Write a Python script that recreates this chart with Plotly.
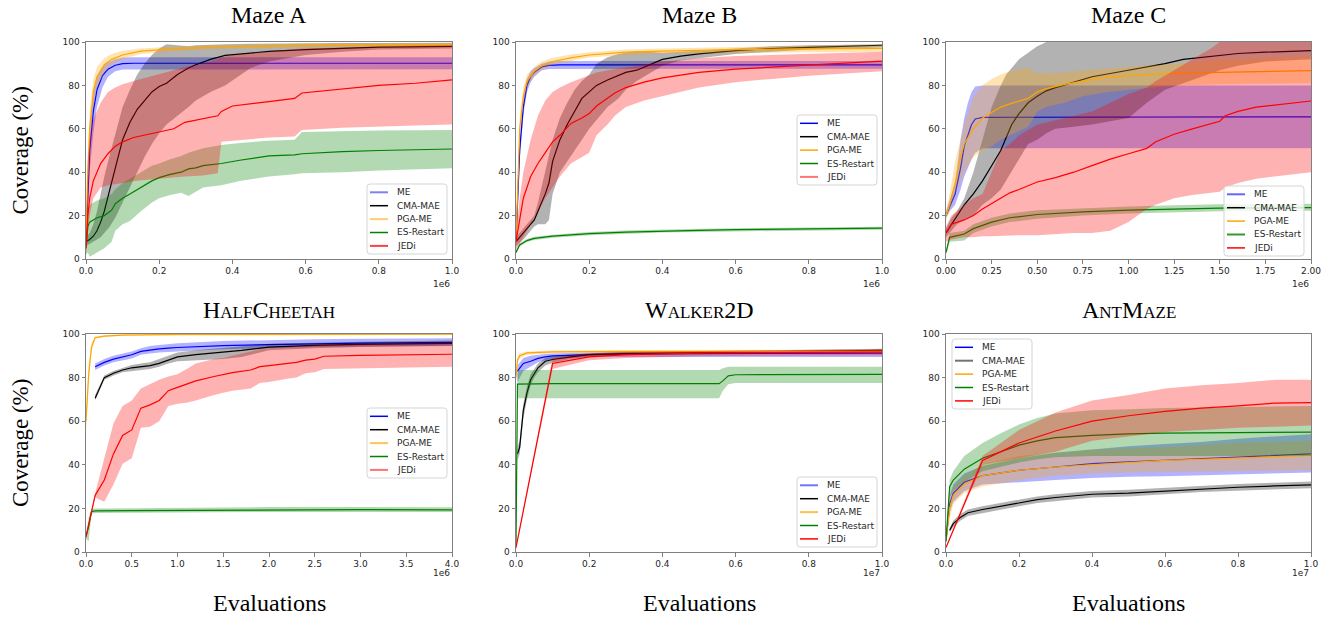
import plotly.graph_objects as go

W, H = 1328, 617

NAMES = ["ME", "CMA-MAE", "PGA-ME", "ES-Restart", "JEDi"]
COLORS = ["#0000ff", "#000000", "#ffa500", "#008000", "#ff0000"]
RGB = [(0, 0, 255), (0, 0, 0), (255, 165, 0), (0, 128, 0), (255, 0, 0)]
TITLES = ["Maze A", "Maze B", "Maze C", "HalfCheetah", "Walker2D", "AntMaze"]
XMAX = [1.0, 1.0, 2.0, 4.0, 1.0, 1.0]
XDTICK = [0.2, 0.2, 0.25, 0.5, 0.2, 0.2]
XFMT = [".1f", ".1f", ".2f", ".1f", ".1f", ".1f"]
XEXP = ["1e6", "1e6", "1e6", "1e6", "1e7", "1e7"]
Y_TICKS = [0, 20, 40, 60, 80, 100]

# ---------------- Maze A (x in 1e6 evaluations) ----------------
MA_ME_X = [0, 0.004, 0.01, 0.02, 0.03, 0.045, 0.06, 0.08, 0.1, 0.13, 1.0]
MA_ME_Y = [8, 25, 50, 68, 78, 84.5, 87.5, 89.3, 90, 90.2, 90.2]
MA_ME_LO = [5, 18, 40, 58, 70, 79, 84, 86.5, 87.3, 87.5, 87.5]
MA_ME_HI = [10, 35, 60, 76, 84, 88.5, 90.5, 92, 92.8, 93, 93]

MA_CMA_X = [0, 0.01, 0.02, 0.03, 0.04, 0.05, 0.065, 0.08, 0.1, 0.12, 0.14, 0.16, 0.18, 0.2,
            0.22, 0.25, 0.28, 0.3, 0.34, 0.38, 0.45, 0.5, 0.6, 0.7, 0.8, 1.0]
MA_CMA_Y = [8, 9, 10.5, 13, 17, 22, 32, 42, 55, 63, 69, 73, 77, 79.5,
            81, 85, 88, 89.5, 92, 93.8, 95, 95.7, 96.5, 97.2, 97.6, 98]
MA_CMA_LO = [6, 7, 8, 9, 10, 12, 15, 19, 26, 33, 40, 47, 53, 58,
             62, 66, 70, 73, 77, 80, 88, 91, 94, 95.5, 96.5, 97]
MA_CMA_HI = [10, 12, 16, 22, 30, 38, 48, 58, 70, 78, 85, 90, 94, 97,
             99, 98.5, 98, 98.5, 98.8, 99, 99.2, 99.3, 99.4, 99.5, 99.5, 99.6]

MA_PGA_X = [0, 0.004, 0.01, 0.02, 0.03, 0.05, 0.07, 0.1, 0.15, 0.25, 0.4, 0.6, 1.0]
MA_PGA_Y = [8, 35, 60, 77, 84, 89.5, 92, 94, 95.8, 97, 97.8, 98.3, 98.7]
MA_PGA_LO = [6, 25, 50, 70, 79, 86, 89.5, 92, 94.5, 96, 97, 97.5, 98]
MA_PGA_HI = [10, 45, 68, 83, 88.5, 92.5, 94.5, 96, 97, 98, 98.7, 99.2, 99.5]

MA_ES_X = [0, 0.005, 0.01, 0.03, 0.05, 0.07, 0.08, 0.1, 0.12, 0.15, 0.18, 0.2, 0.23, 0.26,
           0.28, 0.3, 0.32, 0.37, 0.42, 0.5, 0.57, 0.59, 0.7, 0.8, 1.0]
MA_ES_Y = [5, 15, 17, 19, 20, 22.5, 25.5, 28, 30, 33, 36, 37.5, 39, 40,
           41.5, 42, 43, 44, 45.5, 47.5, 48, 48.5, 49.5, 50, 50.7]
MA_ES_LO = [2, 3, 1, 3, 5, 8, 13, 16, 17.5, 22, 26, 28, 29.5, 30.5,
            29, 31, 33, 34, 36, 38, 39, 39.5, 40, 40.8, 41.8]
MA_ES_HI = [8, 22, 25, 27, 28, 30, 32, 35, 37, 40, 43, 44, 46, 47.5,
            49, 50, 51, 52.5, 53.5, 54.5, 55, 58.5, 59, 59.2, 59.4]

MA_JEDI_X = [0, 0.005, 0.01, 0.02, 0.04, 0.06, 0.08, 0.1, 0.13, 0.2, 0.24, 0.27, 0.32,
             0.36, 0.37, 0.4, 0.5, 0.57, 0.59, 0.7, 0.8, 0.9, 1.0]
MA_JEDI_Y = [5, 20, 28, 36, 44, 48.5, 52, 54, 56, 58.5, 60, 63, 64.5,
             66, 68, 70.5, 72.5, 74, 76.5, 78.5, 80, 81, 82.5]
MA_JEDI_LO = [2, 12, 20, 28, 33, 34, 34.5, 35, 36, 37, 37.5, 38, 38.5,
              39.5, 54, 54.5, 56, 56.5, 59.5, 60.5, 61, 61.5, 62]
MA_JEDI_HI = [8, 45, 55, 64, 72, 77, 79, 80.5, 82, 85, 87, 88.5, 90,
              92, 93, 94, 95.5, 96.5, 97, 97.5, 98, 98.3, 98.5]

# ---------------- Maze B ----------------
MB_ME_X = [0, 0.005, 0.01, 0.02, 0.03, 0.04, 0.05, 0.07, 0.09, 0.12, 1.0]
MB_ME_Y = [8, 27, 50, 70, 80, 84, 86, 88.5, 89.2, 89.5, 89.5]
MB_ME_LO = [6, 25, 45, 66, 77, 81.5, 84, 87, 87.6, 87.7, 87.7]
MB_ME_HI = [10, 29, 55, 74, 83, 86.5, 88, 90, 91, 91.3, 91.3]

MB_CMA_X = [0, 0.02, 0.04, 0.05, 0.06, 0.08, 0.09, 0.1, 0.12, 0.14, 0.16, 0.18, 0.2, 0.22,
            0.25, 0.28, 0.3, 0.33, 0.36, 0.38, 0.4, 0.45, 0.5, 0.6, 0.7, 0.8, 1.0]
MB_CMA_Y = [8, 12, 16, 18, 22, 30, 35, 45, 55, 62, 68, 74, 77, 80,
            82.5, 84.5, 86, 87, 89, 90.5, 92, 93.5, 94.5, 96, 97, 97.5, 98.5]
MB_CMA_LO = [6, 9, 13, 15, 16, 16, 18, 30, 40, 45, 50, 55, 60, 64,
             70, 74, 78, 82, 85, 87, 89, 91.5, 92.5, 94.5, 95.5, 96.5, 97.5]
MB_CMA_HI = [10, 14, 18, 20, 26, 40, 48, 55, 65, 72, 78, 82, 85, 90,
             93, 94.5, 95, 95.8, 95.5, 95.2, 95, 95.5, 96, 97, 98, 98.5, 99]

MB_PGA_X = [0, 0.005, 0.01, 0.02, 0.03, 0.05, 0.07, 0.1, 0.15, 0.2, 0.3, 0.4, 0.6, 0.8, 1.0]
MB_PGA_Y = [8, 35, 60, 75, 82, 86.5, 89, 91, 92.7, 94, 95.3, 95.8, 96.5, 96.8, 97]
MB_PGA_LO = [6, 30, 55, 71, 79, 84.5, 87, 89.5, 91.3, 92.8, 94, 94.5, 95, 95.3, 95.5]
MB_PGA_HI = [10, 40, 65, 79, 85, 88.5, 91, 92.7, 94.2, 95.3, 96.5, 97, 97.8, 98.3, 98.5]

MB_ES_X = [0, 0.01, 0.03, 0.05, 0.1, 0.2, 0.3, 0.4, 0.5, 0.6, 0.8, 1.0]
MB_ES_Y = [3, 6.5, 8.5, 9.5, 10.5, 11.7, 12.4, 12.9, 13.2, 13.5, 13.9, 14.2]
MB_ES_LO = [2.5, 5.8, 7.8, 8.8, 9.8, 11.0, 11.7, 12.2, 12.5, 12.8, 13.2, 13.5]
MB_ES_HI = [3.5, 7.2, 9.2, 10.2, 11.2, 12.4, 13.1, 13.6, 13.9, 14.2, 14.6, 14.9]

MB_JEDI_X = [0, 0.01, 0.02, 0.04, 0.06, 0.08, 0.1, 0.12, 0.15, 0.18, 0.2, 0.22, 0.25,
             0.27, 0.3, 0.35, 0.4, 0.5, 0.6, 0.7, 0.8, 0.9, 1.0]
MB_JEDI_Y = [8, 18, 28, 38, 44, 49, 54, 57, 62.5, 65, 67, 70.5, 74,
             76.5, 79, 81.5, 83.5, 86, 87.5, 88.5, 89.5, 90.3, 91.2]
MB_JEDI_LO = [4, 7, 10, 16, 22, 28, 33, 38, 44, 47, 49, 57, 62,
              66, 70, 73, 75, 79, 81.5, 83, 84.5, 85.5, 86.5]
MB_JEDI_HI = [12, 28, 40, 55, 66, 73, 77, 79, 81.5, 83.5, 85, 86, 87,
              87.5, 88, 89.5, 91, 92.5, 93.5, 94, 94.5, 95, 95.5]

# ---------------- Maze C ----------------
MC_ME_X = [0, 0.02, 0.05, 0.08, 0.1, 0.12, 0.14, 0.16, 0.2, 2.0]
MC_ME_Y = [20, 24, 30, 42, 52, 57, 62, 64.5, 65.3, 65.5]
MC_ME_LO = [19, 22, 25, 32, 38, 42, 46, 49, 51, 51]
MC_ME_HI = [22, 27, 35, 55, 65, 72, 77, 79.5, 80, 80]

MC_CMA_X = [0, 0.03, 0.06, 0.1, 0.15, 0.2, 0.25, 0.3, 0.33, 0.36, 0.4, 0.45, 0.5, 0.55,
            0.6, 0.7, 0.8, 0.9, 1.0, 1.1, 1.2, 1.3, 1.4, 1.5, 1.6, 1.75, 2.0]
MC_CMA_Y = [12, 16, 20, 25, 30, 36, 43, 50, 56, 62, 67, 72, 75, 77.5,
            79, 81.5, 84, 85.5, 87, 88.5, 90, 92, 93, 94, 94.7, 95.3, 96]
MC_CMA_LO = [10, 13, 16, 18, 20, 25, 28, 32, 36, 40, 46, 53, 55, 58,
             60, 61, 62, 63.5, 65, 72, 78, 81, 84, 87, 89, 91, 92]
MC_CMA_HI = [14, 19, 22, 28, 40, 55, 70, 80, 85, 88, 92, 95, 98, 100,
             102, 104, 105, 105, 105, 105, 105, 105, 105, 105, 105, 105, 105]

MC_PGA_X = [0, 0.02, 0.05, 0.08, 0.1, 0.15, 0.2, 0.25, 0.3, 0.35, 0.45, 0.5, 0.55, 0.65,
            0.75, 0.85, 1.0, 1.25, 1.5, 2.0]
MC_PGA_Y = [20, 25, 35, 47, 53, 60, 65, 67.5, 70, 71.5, 74, 77, 78.5, 80.5,
            82, 83.5, 84.5, 85.5, 86, 86.8]
MC_PGA_LO = [18, 22, 30, 36, 40, 47, 50, 52, 55, 57, 61, 68, 70, 72,
             75, 76.5, 78, 80, 80.5, 81]
MC_PGA_HI = [22, 30, 45, 56, 62, 75, 80, 83, 85, 86.5, 88, 85.5, 85.7, 86,
             87, 87.5, 88.5, 90, 92, 93.5]

MC_ES_X = [0, 0.02, 0.1, 0.15, 0.25, 0.35, 0.5, 0.75, 1.0, 1.25, 1.5, 2.0]
MC_ES_Y = [3, 10, 11.5, 14, 17, 19, 20.5, 21.7, 22.5, 23, 23.4, 23.7]
MC_ES_LO = [2, 8, 8.5, 12, 15, 17, 18.5, 20, 21, 21.5, 22, 22.2]
MC_ES_HI = [4, 12, 13, 16, 19, 21, 22.5, 23.5, 24.2, 24.8, 25.2, 25.5]

MC_JEDI_X = [0, 0.03, 0.1, 0.15, 0.2, 0.25, 0.3, 0.35, 0.4, 0.5, 0.6, 0.7, 0.8, 0.9, 1.0,
             1.1, 1.15, 1.25, 1.35, 1.45, 1.5, 1.53, 1.6, 1.7, 1.8, 2.0]
MC_JEDI_Y = [12, 16, 18, 20, 23, 25.5, 28, 30.5, 32, 35.5, 37.5, 40, 43, 46, 48.5,
             51, 54, 57.5, 60, 62.5, 63.5, 66, 68, 70, 71, 72.8]
MC_JEDI_LO = [8, 9, 10, 10, 10.5, 10.5, 10.5, 10.8, 11, 11, 11.5, 12, 12, 13, 17,
              23, 25, 28, 29.5, 30.5, 31, 33, 35, 37, 38, 40]
MC_JEDI_HI = [15, 20, 25, 28, 30, 40, 50, 53, 57, 62, 64, 66, 68, 72, 76,
              79, 82, 87, 92, 97, 100, 102, 104, 105, 105, 105]

# ---------------- HalfCheetah ----------------
HC_ME_X = [0.1, 0.2, 0.3, 0.4, 0.5, 0.6, 0.7, 0.8, 0.9, 1.0, 1.5, 2.0, 2.5, 3.0, 4.0]
HC_ME_Y = [85, 87, 88.5, 89.5, 90.5, 92, 92.7, 93.2, 93.5, 93.8, 94.7, 95.2, 95.5, 95.8, 96.2]
HC_ME_LO = [83.5, 85.5, 87, 87.8, 88.8, 90.5, 91, 91.5, 91.8, 92, 93, 93.5, 94, 94.3, 94.6]
HC_ME_HI = [86.5, 88.5, 90, 91, 92, 93.5, 94.5, 95, 95.5, 95.8, 96.8, 97.3, 97.6, 97.8, 98]

HC_CMA_X = [0.1, 0.2, 0.3, 0.4, 0.5, 0.6, 0.7, 0.8, 0.9, 1.0, 1.2, 1.5, 1.7, 2.0, 2.5, 3.0, 4.0]
HC_CMA_Y = [70.5, 80, 82, 83.5, 84.5, 85, 85.5, 86.5, 88, 89.5, 90.5, 91.5, 92.5, 94, 94.8, 95.2, 95.7]
HC_CMA_LO = [69.5, 79, 81, 82.5, 83, 83.5, 84, 85, 86.5, 87.5, 88, 88.5, 89.5, 92.5, 93.5, 94, 94.5]
HC_CMA_HI = [72, 81, 83, 84.5, 85.8, 86.5, 87, 88.5, 90, 91.5, 92.5, 93.5, 94.5, 95.5, 96, 96.5, 97]

HC_PGA_X = [0, 0.03, 0.06, 0.1, 0.2, 0.4, 1.0, 4.0]
HC_PGA_Y = [60, 82, 94, 98.3, 99, 99.5, 99.8, 99.9]
HC_PGA_LO = [55, 78, 92, 97.8, 98.6, 99.2, 99.5, 99.6]
HC_PGA_HI = [64, 86, 96, 98.8, 99.4, 99.8, 100, 100]

HC_ES_X = [0, 0.03, 0.06, 0.1, 0.5, 1.0, 2.0, 3.0, 4.0]
HC_ES_Y = [7, 12, 18.5, 18.9, 19, 19.1, 19.4, 19.4, 19.3]
HC_ES_LO = [6, 5, 17.5, 17.9, 18, 18.1, 18.4, 18.4, 18.3]
HC_ES_HI = [8, 16, 19.8, 20, 20.1, 20.3, 20.6, 20.6, 20.5]

HC_JEDI_X = [0, 0.1, 0.2, 0.3, 0.4, 0.5, 0.6, 0.7, 0.8, 0.9, 1.0, 1.1, 1.2, 1.4, 1.5, 1.6,
             1.8, 1.9, 2.0, 2.2, 2.3, 2.4, 2.5, 2.6, 3.0, 4.0]
HC_JEDI_Y = [7, 26, 33, 45, 53.5, 56, 66, 67.5, 69.5, 74, 75.5, 77, 78.5, 80.5, 81.5, 82.3,
             83.5, 85, 85.5, 86.5, 87, 88, 88.5, 89.8, 90.2, 90.7]
HC_JEDI_LO = [6, 25, 23, 31, 40.5, 43, 57, 57.5, 60, 67, 68, 68.5, 69.5, 72, 73, 74,
              75, 77.5, 78, 79.5, 80, 82, 82.5, 84, 84.5, 85]
HC_JEDI_HI = [8, 27, 43, 59, 67, 69.5, 75, 77, 79, 80.5, 81.5, 84, 86.5, 88.5, 89, 90,
              92, 93, 93.5, 94.2, 94.5, 94.8, 95, 95.2, 95.5, 96]

# ---------------- Walker2D (x in 1e7) ----------------
WK_ME_X = [0.004, 0.02, 0.04, 0.06, 0.08, 0.1, 0.2, 0.4, 1.0]
WK_ME_Y = [83, 86.5, 87.5, 88.8, 89.5, 90, 90.5, 91, 91.2]
WK_ME_LO = [78, 83, 85, 87, 88, 88.5, 89.5, 89.5, 89.5]
WK_ME_HI = [85.5, 89, 90, 90.5, 90.8, 91, 91.5, 92, 92.5]

WK_CMA_X = [0.004, 0.01, 0.02, 0.03, 0.04, 0.05, 0.06, 0.08, 0.1, 0.15, 0.2, 0.3, 0.5, 0.7, 1.0]
WK_CMA_Y = [45, 48, 65, 73, 79, 82, 84.5, 87.5, 88.3, 89.5, 90.5, 91, 91.5, 92, 92.5]
WK_CMA_LO = [42, 45, 61, 70, 76.5, 80, 82.5, 85.5, 86.8, 88.5, 89.8, 90.3, 90.8, 91.3, 91.8]
WK_CMA_HI = [48, 51, 68, 76, 81.5, 84, 86.5, 89, 89.8, 90.5, 91.2, 91.7, 92.2, 92.7, 93.2]

WK_PGA_X = [0, 0.004, 0.01, 0.03, 0.1, 0.3, 1.0]
WK_PGA_Y = [80, 88, 90, 91.3, 91.8, 92, 92]
WK_PGA_LO = [78, 86.5, 89, 90.5, 91.2, 91.4, 91.4]
WK_PGA_HI = [82, 89.5, 91, 92, 92.4, 92.6, 92.6]

WK_ES_X = [0, 0.004, 0.1, 0.555, 0.565, 0.58, 0.6, 1.0]
WK_ES_Y = [3, 77, 77.2, 77.2, 78.5, 80.8, 81.3, 81.5]
WK_ES_LO = [2, 70.5, 70.5, 70.5, 74, 77, 77.5, 77.5]
WK_ES_HI = [4, 83.5, 83.5, 83.5, 84.3, 85, 85, 85]

WK_JEDI_X = [0, 0.1, 0.15, 0.2, 0.3, 0.5, 0.7, 1.0]
WK_JEDI_Y = [2, 86.5, 88, 89.5, 90.5, 91.2, 91.5, 91.7]
WK_JEDI_LO = [1.5, 84, 86, 88, 89, 89.8, 90, 90.2]
WK_JEDI_HI = [2.5, 89, 90, 91, 91.8, 92.3, 92.6, 93]

# ---------------- AntMaze (x in 1e7) ----------------
AM_ME_X = [0, 0.01, 0.02, 0.05, 0.1, 0.2, 0.3, 0.4, 0.5, 0.6, 0.7, 0.8, 0.9, 1.0]
AM_ME_Y = [5, 22, 27, 32, 35, 37.5, 39, 40.5, 41.3, 42, 42.7, 43.5, 44.2, 45]
AM_ME_LO = [4, 18, 23, 28, 31, 32, 33, 34, 34.5, 34.8, 35.2, 35.5, 36, 36.5]
AM_ME_HI = [6, 26, 31, 36, 39.5, 43, 45.5, 47, 48.5, 49.5, 50.5, 52, 53, 54]

AM_CMA_X = [0.01, 0.02, 0.04, 0.06, 0.1, 0.15, 0.2, 0.25, 0.3, 0.4, 0.5, 0.55, 0.6, 0.7, 0.8, 0.9, 1.0]
AM_CMA_Y = [10, 13, 16, 18, 19.5, 21, 22.5, 24, 25, 26.5, 27, 27.5, 28, 29, 29.7, 30.3, 30.8]
AM_CMA_LO = [9, 11.5, 14.5, 16.5, 18, 19.5, 21, 22.5, 23.5, 25, 25.5, 26, 26.5, 27.5, 28.2, 28.8, 29.3]
AM_CMA_HI = [11, 14.5, 17.5, 19.5, 21, 22.5, 24, 25.5, 26.5, 28, 28.5, 29, 29.5, 30.5, 31.2, 31.8, 32.3]

AM_PGA_X = [0, 0.01, 0.02, 0.05, 0.1, 0.2, 0.3, 0.4, 0.5, 0.6, 0.7, 0.8, 0.9, 1.0]
AM_PGA_Y = [5, 20, 26, 31, 35, 37.5, 39, 40, 41, 42, 42.5, 43, 43.8, 44.3]
AM_PGA_LO = [4, 15, 22, 27, 30, 33, 35, 36, 36.5, 37, 37, 37.2, 37.3, 37.5]
AM_PGA_HI = [6, 25, 30, 35, 40, 44, 45.5, 47, 47.5, 48, 49, 50, 50.5, 51]

AM_ES_X = [0, 0.01, 0.02, 0.05, 0.1, 0.15, 0.2, 0.25, 0.3, 0.4, 0.5, 0.6, 0.8, 1.0]
AM_ES_Y = [5, 30, 33, 38, 43, 46, 49, 51, 52.5, 53.5, 54.2, 54.5, 54.8, 55]
AM_ES_LO = [4, 25, 28, 32, 37, 39, 41, 42.5, 43.5, 44, 44, 44, 44, 44]
AM_ES_HI = [6, 33, 37, 44, 50, 54.5, 58.5, 61.5, 63.5, 65, 65.5, 66, 66.5, 67]

AM_JEDI_X = [0, 0.1, 0.2, 0.3, 0.4, 0.5, 0.6, 0.7, 0.8, 0.9, 1.0]
AM_JEDI_Y = [2, 42, 50, 55.5, 60, 62.5, 64.5, 66, 67, 68.3, 68.5]
AM_JEDI_LO = [2, 40, 43, 46, 51, 53, 55, 56, 57, 57.5, 58]
AM_JEDI_HI = [2.5, 44, 56, 64, 69.5, 72, 75, 76.5, 77.5, 79, 79]

PANEL_SERIES = [
    [(MA_ME_X, MA_ME_Y, MA_ME_LO, MA_ME_HI), (MA_CMA_X, MA_CMA_Y, MA_CMA_LO, MA_CMA_HI),
     (MA_PGA_X, MA_PGA_Y, MA_PGA_LO, MA_PGA_HI), (MA_ES_X, MA_ES_Y, MA_ES_LO, MA_ES_HI),
     (MA_JEDI_X, MA_JEDI_Y, MA_JEDI_LO, MA_JEDI_HI)],
    [(MB_ME_X, MB_ME_Y, MB_ME_LO, MB_ME_HI), (MB_CMA_X, MB_CMA_Y, MB_CMA_LO, MB_CMA_HI),
     (MB_PGA_X, MB_PGA_Y, MB_PGA_LO, MB_PGA_HI), (MB_ES_X, MB_ES_Y, MB_ES_LO, MB_ES_HI),
     (MB_JEDI_X, MB_JEDI_Y, MB_JEDI_LO, MB_JEDI_HI)],
    [(MC_ME_X, MC_ME_Y, MC_ME_LO, MC_ME_HI), (MC_CMA_X, MC_CMA_Y, MC_CMA_LO, MC_CMA_HI),
     (MC_PGA_X, MC_PGA_Y, MC_PGA_LO, MC_PGA_HI), (MC_ES_X, MC_ES_Y, MC_ES_LO, MC_ES_HI),
     (MC_JEDI_X, MC_JEDI_Y, MC_JEDI_LO, MC_JEDI_HI)],
    [(HC_ME_X, HC_ME_Y, HC_ME_LO, HC_ME_HI), (HC_CMA_X, HC_CMA_Y, HC_CMA_LO, HC_CMA_HI),
     (HC_PGA_X, HC_PGA_Y, HC_PGA_LO, HC_PGA_HI), (HC_ES_X, HC_ES_Y, HC_ES_LO, HC_ES_HI),
     (HC_JEDI_X, HC_JEDI_Y, HC_JEDI_LO, HC_JEDI_HI)],
    [(WK_ME_X, WK_ME_Y, WK_ME_LO, WK_ME_HI), (WK_CMA_X, WK_CMA_Y, WK_CMA_LO, WK_CMA_HI),
     (WK_PGA_X, WK_PGA_Y, WK_PGA_LO, WK_PGA_HI), (WK_ES_X, WK_ES_Y, WK_ES_LO, WK_ES_HI),
     (WK_JEDI_X, WK_JEDI_Y, WK_JEDI_LO, WK_JEDI_HI)],
    [(AM_ME_X, AM_ME_Y, AM_ME_LO, AM_ME_HI), (AM_CMA_X, AM_CMA_Y, AM_CMA_LO, AM_CMA_HI),
     (AM_PGA_X, AM_PGA_Y, AM_PGA_LO, AM_PGA_HI), (AM_ES_X, AM_ES_Y, AM_ES_LO, AM_ES_HI),
     (AM_JEDI_X, AM_JEDI_Y, AM_JEDI_LO, AM_JEDI_HI)],
]

# ---------------- layout geometry (pixels) ----------------
COL_PX = [(86, 452), (516, 882), (946, 1311)]
ROW_PX = [(42, 259), (334, 552)]
# legend boxes: (left px, top px)
LEG_BOX = [(367, 184), (797, 115), (1224, 186), (367, 408), (797, 477), (952, 339)]
LEG_W, LEG_H, LEG_ROW = 80, 70, 13.4
# opacity of legend handles (some handles in the original appear lighter)
LEG_ALPHA = [[0.5, 1, 0.55, 1, 0.75], [1, 1, 1, 1, 0.55], [0.6, 1, 1, 0.8, 1],
             [1, 1, 0.65, 1, 0.55], [0.55, 1, 0.7, 1, 1], [1, 0.55, 1, 1, 1]]

SERIF = "Liberation Serif, Times New Roman, serif"
SANS = "DejaVu Sans, sans-serif"


def px(x):
    return x / W


def py(y):
    return 1 - y / H


def rgba(s, a):
    r, g, b = RGB[s]
    return f"rgba({r},{g},{b},{a})"


fig = go.Figure()
layout = dict(template="none", width=W, height=H, margin=dict(l=0, r=0, t=0, b=0),
              paper_bgcolor="white", plot_bgcolor="white", showlegend=False)
annotations = []
shapes = []

for p in range(6):
    r, c = divmod(p, 3)
    ax = "" if p == 0 else str(p + 1)
    xd = [px(COL_PX[c][0]), px(COL_PX[c][1])]
    yd = [py(ROW_PX[r][1]), py(ROW_PX[r][0])]
    common = dict(showline=True, linecolor="#808080", linewidth=1, mirror=True,
                  ticks="outside", ticklen=3.5, tickcolor="#808080", tickwidth=1,
                  showgrid=False, zeroline=False, automargin=False,
                  tickfont=dict(family=SANS, size=9, color="#262626"))
    layout["xaxis" + ax] = dict(domain=xd, anchor="y" + ax, range=[0, XMAX[p]],
                                tick0=0, dtick=XDTICK[p], tickformat=XFMT[p], **common)
    layout["yaxis" + ax] = dict(domain=yd, anchor="x" + ax, range=[0, 100],
                                tickvals=Y_TICKS, **common)

    for s, (xs, ys, lo, hi) in enumerate(PANEL_SERIES[p]):
        fig.add_trace(go.Scatter(
            x=list(xs) + list(xs)[::-1], y=list(hi) + list(lo)[::-1],
            xaxis="x" + ax, yaxis="y" + ax, mode="lines", fill="toself",
            fillcolor=rgba(s, 0.3), line=dict(width=0), hoverinfo="skip",
            showlegend=False))
        fig.add_trace(go.Scatter(
            x=xs, y=ys, xaxis="x" + ax, yaxis="y" + ax, mode="lines",
            name=NAMES[s], line=dict(color=COLORS[s], width=1.2), showlegend=False))

    # legend box (drawn like matplotlib's: rounded, translucent white)
    bx, by = LEG_BOX[p]
    rr = 3
    x0, x1, y0, y1 = bx, bx + LEG_W, by, by + LEG_H
    path = (f"M {px(x0 + rr)},{py(y0)} L {px(x1 - rr)},{py(y0)} "
            f"Q {px(x1)},{py(y0)} {px(x1)},{py(y0 + rr)} L {px(x1)},{py(y1 - rr)} "
            f"Q {px(x1)},{py(y1)} {px(x1 - rr)},{py(y1)} L {px(x0 + rr)},{py(y1)} "
            f"Q {px(x0)},{py(y1)} {px(x0)},{py(y1 - rr)} L {px(x0)},{py(y0 + rr)} "
            f"Q {px(x0)},{py(y0)} {px(x0 + rr)},{py(y0)} Z")
    shapes.append(dict(type="path", path=path, xref="paper", yref="paper",
                       fillcolor="rgba(255,255,255,0.8)", line=dict(color="#d5d5d5", width=1),
                       layer="above"))
    for s in range(5):
        ry = by + 8.3 + s * LEG_ROW
        a = LEG_ALPHA[p][s]
        shapes.append(dict(type="line", xref="paper", yref="paper",
                           x0=px(bx + 3), x1=px(bx + 21), y0=py(ry), y1=py(ry),
                           line=dict(color=rgba(s, a), width=1.5 if a == 1 else 2),
                           layer="above"))
        annotations.append(dict(text=NAMES[s], x=px(bx + 28), y=py(ry), xref="paper",
                                yref="paper", xanchor="left", yanchor="middle",
                                showarrow=False,
                                font=dict(family=SANS, size=9, color="#262626")))

    # subplot title
    cx = px((COL_PX[c][0] + COL_PX[c][1]) / 2)
    ty = [15, 310][r]
    variant = "normal" if p < 3 else "small-caps"
    annotations.append(dict(text=TITLES[p], x=cx, y=py(ty), xref="paper", yref="paper",
                            xanchor="center", yanchor="middle", showarrow=False,
                            font=dict(family=SERIF, size=24, color="black", variant=variant)))
    # exponent offset text
    ey = [284, 573][r]
    annotations.append(dict(text=XEXP[p], x=px(COL_PX[c][1]), y=py(ey), xref="paper",
                            yref="paper", xanchor="right", yanchor="middle", showarrow=False,
                            font=dict(family=SANS, size=9, color="#262626")))

for r in range(2):
    cy = (ROW_PX[r][0] + ROW_PX[r][1]) / 2
    annotations.append(dict(text="Coverage (%)", x=px(20), y=py(cy), xref="paper",
                            yref="paper", xanchor="center", yanchor="middle", textangle=-90,
                            showarrow=False, font=dict(family=SERIF, size=23, color="black")))
for c in range(3):
    cx = px((COL_PX[c][0] + COL_PX[c][1]) / 2)
    annotations.append(dict(text="Evaluations", x=cx, y=py(603), xref="paper",
                            yref="paper", xanchor="center", yanchor="middle",
                            showarrow=False, font=dict(family=SERIF, size=24, color="black")))

layout["annotations"] = annotations
layout["shapes"] = shapes
fig.update_layout(**layout)
fig.write_html("out.html", config={"displayModeBar": False},
               post_script="document.body.style.margin='0';"
                           "document.body.style.overflow='hidden';")
